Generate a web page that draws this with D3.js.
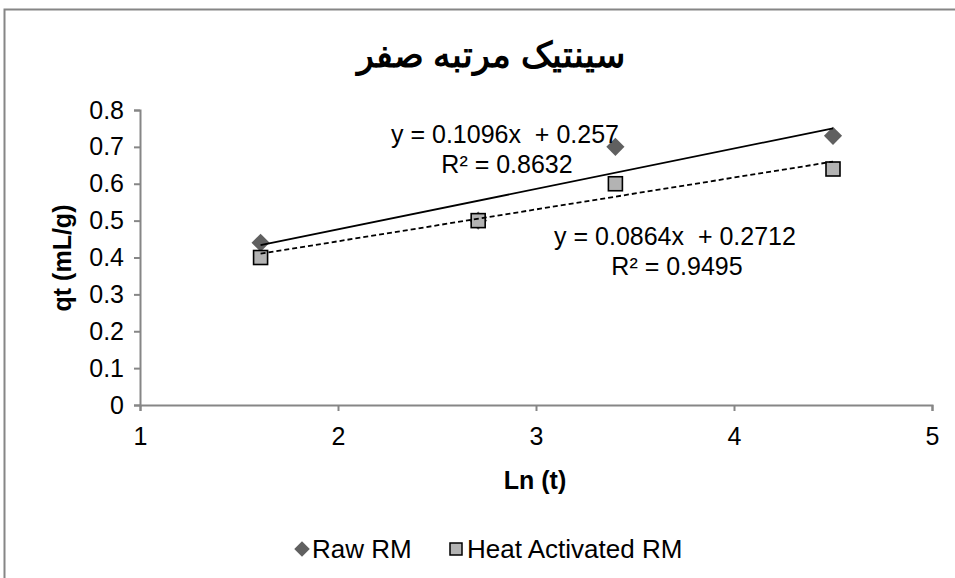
<!DOCTYPE html>
<html>
<head>
<meta charset="utf-8">
<script src="https://cdn.jsdelivr.net/npm/d3@7"></script>
<style>
  html, body { margin: 0; padding: 0; background: #fff; }
  svg { display: block; }
  text { font-family: "Liberation Sans", Arial, sans-serif; fill: #000; }
</style>
</head>
<body>
<svg id="chart" width="955" height="578"></svg>
<script>
// Zero-order kinetics: qt against ln(t) for raw and heat-activated RM
const lnT = [1.609, 2.708, 3.401, 4.500];
const rawRM = [0.44, 0.50, 0.70, 0.73];
const heatRM = [0.40, 0.50, 0.60, 0.64];
const xTicks = [1, 2, 3, 4, 5];
const yTicks = [0, 0.1, 0.2, 0.3, 0.4, 0.5, 0.6, 0.7, 0.8];
const seriesNames = ["Raw RM", "Heat Activated RM"];
// Linear trendline coefficients [slope, intercept] and R²
const rawFit = [0.1096, 0.257, 0.8632];
const heatFit = [0.0864, 0.2712, 0.9495];
const titleText = "سینتیک مرتبه صفر";

const svg = d3.select("#chart");
const axisColor = "#868686";
const fs = 25;

// Outer chart frame
svg.append("rect")
  .attr("x", 4.5).attr("y", 9.5)
  .attr("width", 1000).attr("height", 700)
  .attr("fill", "none").attr("stroke", axisColor).attr("stroke-width", 2);

const x = d3.scaleLinear().domain([1, 5]).range([140, 932]);
const y = d3.scaleLinear().domain([0, 0.8]).range([405, 110]);

// Axes
const gx = svg.append("g").attr("transform", `translate(0,${y(0)})`)
  .call(d3.axisBottom(x).tickValues(xTicks).tickFormat(d3.format("d")).tickSize(6).tickPadding(16));
const gy = svg.append("g").attr("transform", `translate(${x(1)},0)`)
  .call(d3.axisLeft(y).tickValues(yTicks).tickFormat(d => d === 0 ? "0" : d3.format(".1f")(d)).tickSize(6).tickPadding(10));
[gx, gy].forEach(g => {
  g.select(".domain").attr("stroke", axisColor).attr("stroke-width", 2);
  g.selectAll(".tick line").attr("stroke", axisColor).attr("stroke-width", 2);
  g.selectAll(".tick text").attr("font-size", fs).attr("fill", "#000")
    .attr("font-family", "'Liberation Sans', Arial, sans-serif");
});

// Markers: raw RM as diamonds, heat-activated RM as outlined squares
const diamond = d3.symbol().type(d3.symbolSquare).size(165);
svg.append("g").selectAll("path").data(lnT.map((t, i) => [t, rawRM[i]])).join("path")
  .attr("d", diamond)
  .attr("transform", d => `translate(${x(d[0])},${y(d[1])}) rotate(45)`)
  .attr("fill", "#606060");

svg.append("g").selectAll("rect").data(lnT.map((t, i) => [t, heatRM[i]])).join("rect")
  .attr("x", d => x(d[0]) - 7).attr("y", d => y(d[1]) - 7)
  .attr("width", 14).attr("height", 14)
  .attr("fill", "#b3b3b3").attr("stroke", "#000").attr("stroke-width", 1.6);

// Trendlines across the data range
const xMin = d3.min(lnT), xMax = d3.max(lnT);
function trend(fit, dash) {
  svg.append("line")
    .attr("x1", x(xMin)).attr("y1", y(fit[0] * xMin + fit[1]))
    .attr("x2", x(xMax)).attr("y2", y(fit[0] * xMax + fit[1]))
    .attr("stroke", "#000").attr("stroke-width", 1.8)
    .attr("stroke-dasharray", dash);
}
trend(rawFit, null);
trend(heatFit, "5,3");

// Trendline equations
function eqLabel(fit, cx, by) {
  const g = svg.append("g").attr("font-size", fs).attr("text-anchor", "middle");
  g.append("text").attr("x", cx).attr("y", by).attr("xml:space", "preserve")
    .text(`y = ${fit[0]}x  + ${fit[1]}`);
  g.append("text").attr("x", cx + 2).attr("y", by + 30)
    .text(`R² = ${fit[2]}`);
}
eqLabel(rawFit, 505, 143);
eqLabel(heatFit, 675, 245);

// Title
svg.append("text").attr("x", 491).attr("y", 67)
  .attr("text-anchor", "middle").attr("font-size", 35).attr("font-weight", "bold")
  .attr("font-family", "'DejaVu Sans', sans-serif")
  .text(titleText);

// Axis titles
svg.append("text").attr("x", 535).attr("y", 489)
  .attr("text-anchor", "middle").attr("font-size", fs).attr("font-weight", "bold")
  .text("Ln (t)");
svg.append("text").attr("transform", "translate(71,258) rotate(-90)")
  .attr("text-anchor", "middle").attr("font-size", fs).attr("font-weight", "bold")
  .text("qt (mL/g)");

// Legend
const lg = svg.append("g").attr("font-size", 26);
lg.append("path").attr("d", d3.symbol().type(d3.symbolSquare).size(120)())
  .attr("transform", "translate(302,549) rotate(45)").attr("fill", "#606060");
lg.append("text").attr("x", 312).attr("y", 558).text(seriesNames[0]);
lg.append("rect").attr("x", 450).attr("y", 543).attr("width", 12).attr("height", 12)
  .attr("fill", "#b3b3b3").attr("stroke", "#000").attr("stroke-width", 1.5);
lg.append("text").attr("x", 467).attr("y", 558).text(seriesNames[1]);
</script>
</body>
</html>
